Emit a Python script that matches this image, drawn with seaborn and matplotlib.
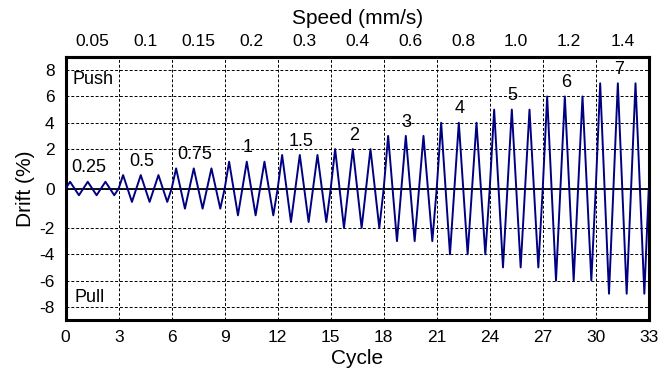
import numpy as np
import pandas as pd
import matplotlib
matplotlib.use("Agg")
import matplotlib.pyplot as plt
import seaborn as sns

# ---- data ----
drift_levels = ["0.25", "0.5", "0.75", "1", "1.5", "2", "3", "4", "5", "6", "7"]
drift_amplitude = [0.34, 0.68, 1.02, 1.36, 1.70, 2.0, 3.0, 4.0, 5.0, 6.0, 7.0]
speed_labels = ["0.05", "0.1", "0.15", "0.2", "0.3", "0.4", "0.6", "0.8", "1.0", "1.2", "1.4"]
cycles_per_level = 3
cycle_ticks = [0, 3, 6, 9, 12, 15, 18, 21, 24, 27, 30, 33]
drift_ticks = [-8, -6, -4, -2, 0, 2, 4, 6, 8]

# triangular loading protocol: each cycle 0 -> +A -> -A -> 0
xs, ys = [0.0], [0.0]
n = 0
for amp in drift_amplitude:
    for _ in range(cycles_per_level):
        xs += [n + 0.25, n + 0.75, n + 1.0]
        ys += [amp, -amp, 0.0]
        n += 1
df = pd.DataFrame({"Cycle": xs, "Drift": ys})

sns.set_style("white")
plt.rcParams["font.family"] = ["Liberation Sans", "DejaVu Sans"]
plt.rcParams["axes.unicode_minus"] = False
plt.rcParams["text.color"] = "black"
plt.rcParams["axes.labelcolor"] = "black"
plt.rcParams["xtick.color"] = "black"
plt.rcParams["ytick.color"] = "black"

fig = plt.figure(figsize=(6.62, 3.78), dpi=100)
ax = fig.add_axes([0.0992, 0.1534, 0.8808, 0.6958])


def fwd(y):
    y = np.asarray(y, dtype=float)
    a = np.abs(y)
    return np.sign(y) * np.where(a <= 2, 1.5 * a, a + 1.0)


def inv(u):
    u = np.asarray(u, dtype=float)
    a = np.abs(u)
    return np.sign(u) * np.where(a <= 3, a / 1.5, a - 1.0)


ax.set_yscale("function", functions=(fwd, inv))

sns.lineplot(data=df, x="Cycle", y="Drift", ax=ax, color="#000080",
             linewidth=1.4, estimator=None, sort=False, zorder=3)

ax.axhline(0, color="black", linewidth=1.3, zorder=2)

ax.set_xlim(0, 33)
ax.set_ylim(-9, 9)
ax.set_xticks(cycle_ticks)
ax.set_xticklabels([str(t) for t in cycle_ticks])
ax.set_yticks(drift_ticks)
ax.set_yticklabels([str(t) for t in drift_ticks])
ax.yaxis.set_minor_locator(matplotlib.ticker.NullLocator())

ax.grid(True, color="black", linestyle=(0, (3, 2)), linewidth=0.7, zorder=1)
ax.set_axisbelow(True)

for s in ax.spines.values():
    s.set_linewidth(2.2)
    s.set_color("black")

ax.tick_params(axis="both", length=0, labelsize=12.5, colors="black")
ax.tick_params(axis="x", pad=7)
ax.tick_params(axis="y", pad=8)

ax.set_xlabel("Cycle", fontsize=15, labelpad=3, color="black")
ax.set_ylabel("Drift (%)", fontsize=15, labelpad=3, color="black")

# top axis: speed
centers = [cycles_per_level * k + 1.5 for k in range(len(speed_labels))]
top = ax.secondary_xaxis("top")
top.set_xticks(centers)
top.set_xticklabels(speed_labels)
top.tick_params(length=0, labelsize=12.5, pad=6, colors="black")
top.set_xlabel("Speed (mm/s)", fontsize=15, labelpad=7, color="black")
top.spines["top"].set_linewidth(2.2)

# amplitude labels
for k, (lab, amp) in enumerate(zip(drift_levels, drift_amplitude)):
    ax.annotate(lab, xy=(cycles_per_level * k + 1.3, amp), xytext=(0, 10),
                textcoords="offset points", ha="center", va="center",
                fontsize=13, color="black")

ax.text(0.4, 7.27, "Push", fontsize=13, ha="left", va="center", color="black")
ax.text(0.5, -7.27, "Pull", fontsize=13, ha="left", va="center", color="black")

fig.savefig("out.png", dpi=100)
